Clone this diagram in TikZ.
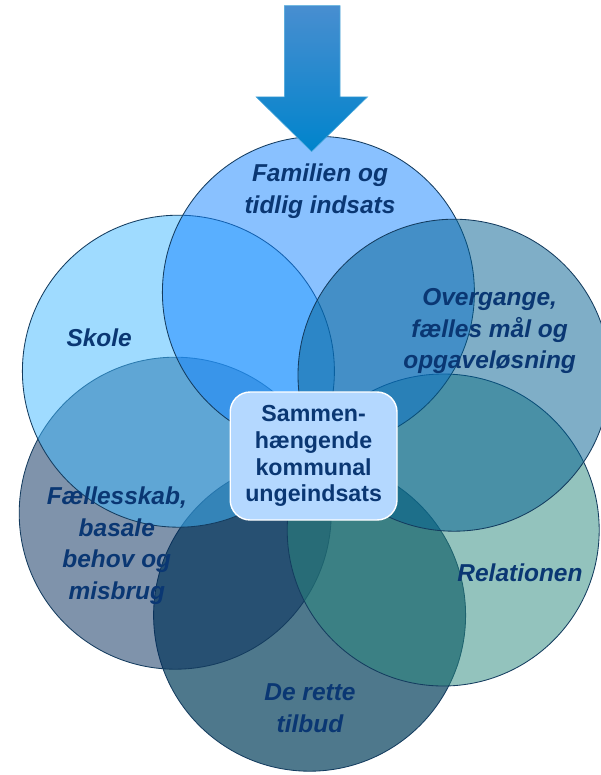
\documentclass[tikz,border=0pt]{standalone}
\usepackage{fontspec}
\setmainfont{Liberation Sans}
\definecolor{NavyText}{RGB}{10, 55, 115}
\definecolor{RimLine}{RGB}{20, 60, 95}
\definecolor{FamBlue}{RGB}{21, 133, 255}
\definecolor{SkoleBlue}{RGB}{65, 185, 255}
\definecolor{OverBlue}{RGB}{0, 95, 145}
\definecolor{RelTeal}{RGB}{41, 137, 125}
\definecolor{FaelNavy}{RGB}{1, 41, 89}
\definecolor{TilbudSlate}{RGB}{78, 120, 140}
\definecolor{CoreFill}{RGB}{180, 216, 255}
\definecolor{ArrowTop}{RGB}{72, 142, 208}
\definecolor{ArrowBot}{RGB}{0, 132, 204}
\usepackage{tikz}
\usetikzlibrary{calc}

\begin{document}
\begin{tikzpicture}[
        ring/.style={draw=RimLine, line width=0.6pt, fill opacity=0.5},
        lbl/.style={font=\fontsize{17.4}{22.4}\selectfont\bfseries\itshape, text=NavyText, align=center}
    ]
        \useasboundingbox (0, 0) rectangle (15, -19.375);
        \fill[white] (0, 0) rectangle (15, -19.375);

        % circles, bottom one first
        \draw[ring, fill=TilbudSlate, fill opacity=1] (7.74, -15.38) circle (3.9);
        \draw[ring, fill=FaelNavy] (4.38, -12.83) circle (3.9);
        \draw[ring, fill=RelTeal] (11.08, -13.25) circle (3.9);
        \draw[ring, fill=SkoleBlue] (4.46, -9.28) circle (3.9);
        \draw[ring, fill=FamBlue] (7.96, -7.31) circle (3.9);
        \draw[ring, fill=OverBlue] (11.35, -9.38) circle (3.9);

        \node[lbl] (familie) at (8.0, -4.78) {Familien og\\tidlig indsats};
        \node[lbl] (skole) at (2.48, -8.45) {Skole};
        \node[lbl] (overgang) at (12.24, -8.28) {Overgange,\\fælles mål og\\opgaveløsning};
        \node[lbl] (relation) at (13.0, -14.33) {Relationen};
        \node[lbl] (faelles) at (2.92, -13.64) {Fællesskab,\\basale\\behov og\\misbrug};
        \node[lbl] (tilbud) at (7.75, -17.7) {De rette\\tilbud};

        \node[draw=white, line width=1pt, fill=CoreFill, rounded corners=0.5cm,
              minimum width=4.17cm, minimum height=3.2cm, align=center,
              font=\fontsize{16.5}{19}\selectfont\bfseries, text=NavyText]
              (kerne) at (7.84, -11.4) {Sammen-\\hængende\\kommunal\\ungeindsats};

        % arrow into the top circle
        \shade[top color=ArrowTop, bottom color=ArrowBot, draw=ArrowBot!70!white, line width=0.4pt]
            (7.11, -0.14) -- (8.5, -0.14) -- (8.5, -2.42) -- (9.19, -2.42) -- (7.79, -3.79)
            -- (6.4, -2.42) -- (7.11, -2.42) -- cycle;
    \end{tikzpicture}
\end{document}
